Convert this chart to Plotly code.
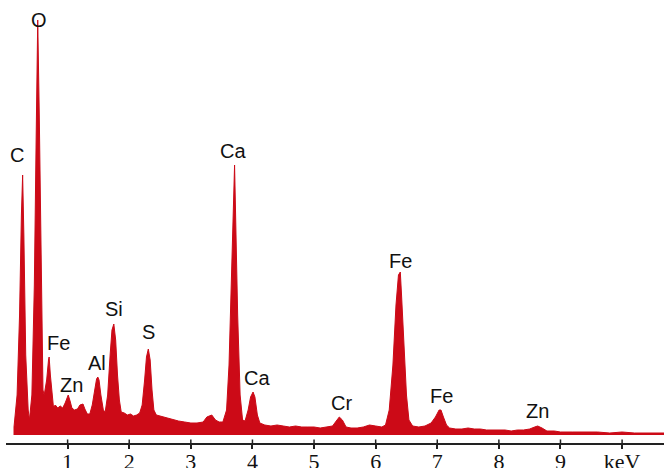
import plotly.graph_objects as go

# EDS spectrum (energy in keV, intensity in arbitrary units)
energy = [0.13, 0.13, 0.18, 0.22, 0.25, 0.27, 0.29, 0.32, 0.36, 0.38, 0.42, 0.46, 0.49, 0.515,
          0.54, 0.57, 0.60, 0.62, 0.66, 0.69, 0.70, 0.72, 0.75, 0.77, 0.80, 0.84, 0.88, 0.92,
          0.96, 0.99, 1.01, 1.04, 1.07, 1.11, 1.16, 1.20, 1.25, 1.28, 1.32, 1.36, 1.40, 1.44,
          1.47, 1.49, 1.51, 1.54, 1.58, 1.61, 1.65, 1.69, 1.72, 1.75, 1.78, 1.81, 1.84, 1.87,
          1.92, 1.97, 2.02, 2.07, 2.12, 2.17, 2.21, 2.25, 2.28, 2.31, 2.34, 2.37, 2.40, 2.44,
          2.50, 2.60, 2.70, 2.80, 2.90, 3.00, 3.10, 3.20, 3.26, 3.34, 3.40, 3.46, 3.52, 3.58,
          3.62, 3.66, 3.69, 3.71, 3.73, 3.76, 3.80, 3.84, 3.88, 3.93, 3.97, 4.01, 4.04, 4.08,
          4.12, 4.20, 4.30, 4.40, 4.50, 4.60, 4.70, 4.80, 4.90, 5.00, 5.10, 5.20, 5.30, 5.36,
          5.41, 5.46, 5.52, 5.60, 5.70, 5.80, 5.90, 6.00, 6.10, 6.16, 6.22, 6.28, 6.33, 6.37,
          6.40, 6.42, 6.46, 6.50, 6.54, 6.60, 6.70, 6.80, 6.90, 6.97, 7.03, 7.06, 7.10, 7.15,
          7.20, 7.30, 7.40, 7.50, 7.60, 7.70, 7.80, 7.90, 8.00, 8.10, 8.20, 8.30, 8.40, 8.50,
          8.58, 8.63, 8.70, 8.78, 8.90, 9.00, 9.20, 9.40, 9.60, 9.80, 10.00, 10.20, 10.40,
          10.60, 10.68, 10.68]
counts = [0, 8, 40, 120, 220, 260, 200, 80, 25, 15, 40, 150, 300, 415,
          320, 160, 45, 40, 55, 75, 78, 60, 35, 28, 30, 27, 29, 27,
          32, 38, 40, 34, 27, 25, 26, 30, 31, 26, 21, 21, 30, 45,
          56, 58, 55, 40, 25, 23, 40, 80, 105, 111, 95, 60, 35, 23,
          22, 20, 21, 19, 20, 22, 30, 55, 78, 86, 75, 45, 25, 20,
          19, 17, 16, 14, 13, 12, 12, 13, 18, 20, 15, 13, 13, 25,
          70, 170, 250, 270, 210, 120, 40, 15, 14, 25, 38, 43, 38, 20,
          12, 10, 9, 10, 9, 8, 9, 8, 8, 8, 7, 8, 9, 14,
          18, 15, 8, 7, 7, 8, 10, 9, 8, 10, 25, 70, 130, 160,
          163, 140, 90, 40, 15, 9, 8, 9, 12, 18, 25, 25, 18, 10,
          7, 6, 6, 7, 6, 6, 5, 5, 5, 5, 4, 5, 5, 6,
          8, 9, 7, 4, 4, 3, 3, 3, 3, 2, 3, 2, 2,
          2, 2, 0]

# Peak labels and where they sit (keV, intensity)
peak_labels = ["O", "C", "Fe", "Zn", "Al", "Si", "S", "Ca", "Ca", "Cr", "Fe", "Fe", "Zn"]
label_x = [0.53, 0.18, 0.85, 1.055, 1.47, 1.75, 2.31, 3.69, 4.08, 5.45, 6.41, 7.07, 8.63]
label_y = [415, 280, 92, 50, 72, 126, 103, 284, 57, 32, 174, 39, 24]

tick_vals = [1, 2, 3, 4, 5, 6, 7, 8, 9, 10]
tick_text = ["1", "2", "3", "4", "5", "6", "7", "8", "9", "keV"]

red = "#cc0a17"

fig = go.Figure()
fig.add_trace(go.Scatter(
    x=energy, y=counts, mode="lines", fill="tozeroy",
    line=dict(color=red, width=1), fillcolor=red, hoverinfo="skip",
))

for t, x, y in zip(peak_labels, label_x, label_y):
    fig.add_annotation(x=x, y=y, text=t, showarrow=False, xanchor="center", yanchor="middle",
                       font=dict(family="Liberation Sans, Arial, sans-serif", size=20, color="#111"))

# tick marks crossing the axis line (upper half)
for v in tick_vals:
    fig.add_shape(type="line", xref="x", yref="paper", x0=v, x1=v, y0=0, y1=0.008,
                  line=dict(color="#222", width=1.5))

fig.update_layout(
    width=664, height=468,
    margin=dict(l=6, r=0, t=0, b=25, pad=0, autoexpand=False),
    paper_bgcolor="white", plot_bgcolor="white",
    showlegend=False,
    xaxis=dict(range=[0, 10.68], showline=True, linecolor="#222", linewidth=1.5,
               ticks="outside", ticklen=4, tickwidth=1.5, tickcolor="#222",
               tickvals=tick_vals, ticktext=tick_text, showgrid=False, zeroline=False,
               automargin=False, ticklabelstandoff=-6,
               tickfont=dict(family="Liberation Serif, Times New Roman, serif", size=22, color="#111")),
    yaxis=dict(range=[-8, 435], visible=False, showgrid=False, zeroline=False, automargin=False),
)

fig.write_html("out.html", config={"displayModeBar": False},
               post_script="document.body.style.margin='0';document.body.style.overflow='hidden';")
